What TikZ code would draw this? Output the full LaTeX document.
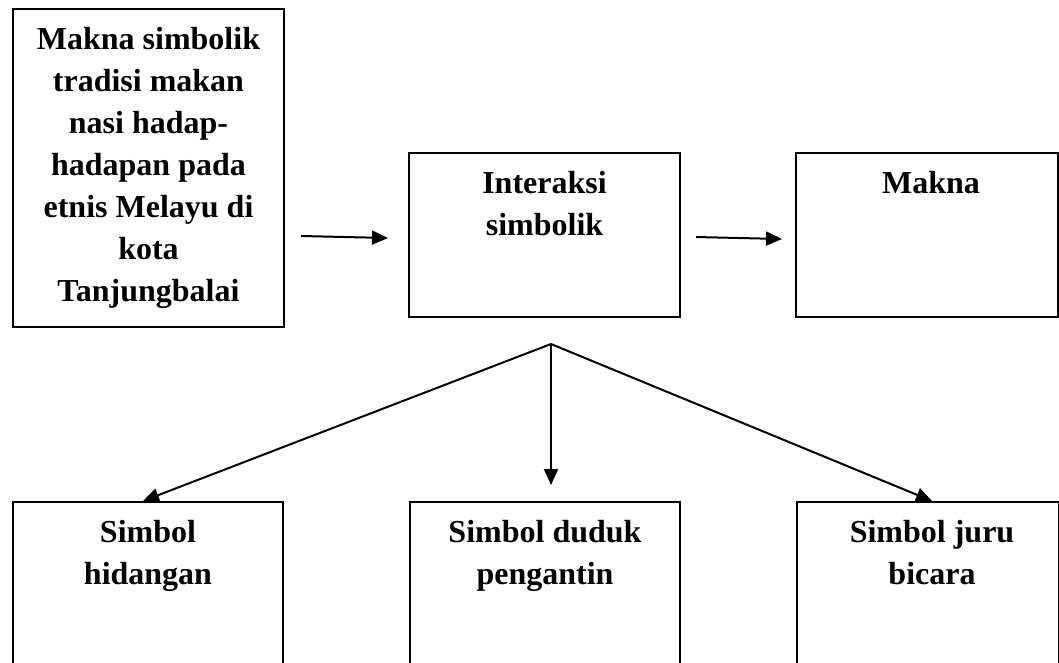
\documentclass[tikz,border=0pt]{standalone}
\usepackage{fontspec}
\setmainfont{Liberation Serif}
\usetikzlibrary{arrows.meta}
\begin{document}
\begin{tikzpicture}[x=1pt,y=-1pt,
  boxframe/.style={draw=black,line width=2pt,rectangle,inner sep=0pt,anchor=north west},
  boxtext/.style={anchor=north,inner sep=0pt,align=center,
    font=\fontsize{32}{42}\selectfont\bfseries},
  conn/.style={line width=2pt,-{Triangle[length=16pt,width=14pt]}}]
\useasboundingbox (0,0) rectangle (1059,662);
% boxes
\node[boxframe,minimum width=271pt,minimum height=318pt] (b1) at (12,8) {};
\node[boxframe,minimum width=271pt,minimum height=164pt] (b2) at (408,152) {};
\node[boxframe,minimum width=262pt,minimum height=164pt] (b3) at (795,152) {};
\node[boxframe,minimum width=270pt,minimum height=200pt] (b4) at (12,501) {};
\node[boxframe,minimum width=270pt,minimum height=200pt] (b5) at (409,501) {};
\node[boxframe,minimum width=262pt,minimum height=200pt] (b6) at (796,501) {};
% texts
\node[boxtext] (t1) at ([yshift=-16pt]b1.north) {\rule{0pt}{25pt}Makna simbolik\\tradisi makan\\nasi hadap-\\hadapan pada\\etnis Melayu di\\kota\\Tanjungbalai};
\node[boxtext] (t2) at ([yshift=-16pt]b2.north) {\rule{0pt}{25pt}Interaksi\\simbolik};
\node[boxtext] (t3) at ([yshift=-16pt,xshift=4pt]b3.north) {\rule{0pt}{25pt}Makna};
\node[boxtext] (t4) at ([yshift=-16pt]b4.north) {\rule{0pt}{25pt}Simbol\\hidangan};
\node[boxtext] (t5) at ([yshift=-16pt]b5.north) {\rule{0pt}{25pt}Simbol duduk\\pengantin};
\node[boxtext] (t6) at ([yshift=-16pt,xshift=4pt]b6.north) {\rule{0pt}{25pt}Simbol juru\\bicara};
% connector end points
\coordinate (a1s) at (301,236);
\coordinate (a1e) at (388,238);
\coordinate (a2s) at (696,237);
\coordinate (a2e) at (782,239);
\coordinate (apex) at (551,344);
\coordinate (l4) at (143,501);
\coordinate (l5) at (551,485);
\coordinate (l6) at (932,501);
% connectors
\draw[conn] (a1s) -- (a1e);
\draw[conn] (a2s) -- (a2e);
\draw[conn] (apex) -- (l4);
\draw[conn] (apex) -- (l5);
\draw[conn] (apex) -- (l6);
\end{tikzpicture}
\end{document}
